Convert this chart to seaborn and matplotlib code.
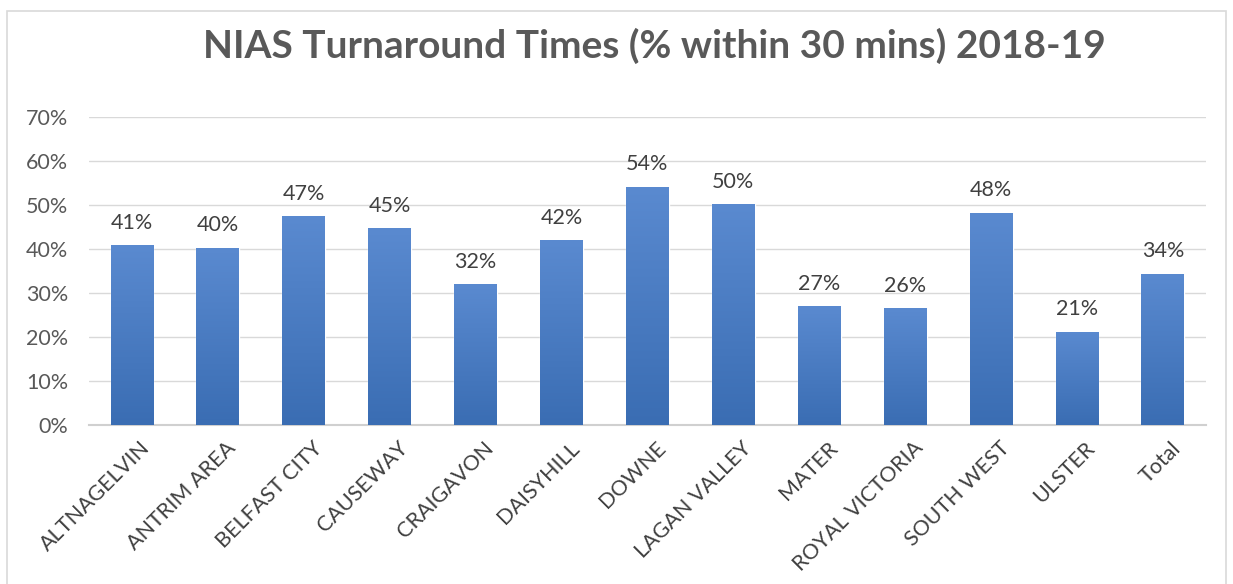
import numpy as np
import pandas as pd
import matplotlib
matplotlib.use("Agg")
import matplotlib.pyplot as plt
import matplotlib.transforms as mtransforms
import seaborn as sns
from matplotlib.colors import LinearSegmentedColormap
from matplotlib.patches import Rectangle

categories = ["ALTNAGELVIN", "ANTRIM AREA", "BELFAST CITY", "CAUSEWAY", "CRAIGAVON",
              "DAISYHILL", "DOWNE", "LAGAN VALLEY", "MATER", "ROYAL VICTORIA",
              "SOUTH WEST", "ULSTER", "Total"]
values = [0.409, 0.403, 0.474, 0.447, 0.320, 0.420, 0.541, 0.502, 0.270, 0.265, 0.482, 0.212, 0.344]
labels = ["41%", "40%", "47%", "45%", "32%", "42%", "54%", "50%", "27%", "26%", "48%", "21%", "34%"]
yticks = [0, 0.1, 0.2, 0.3, 0.4, 0.5, 0.6, 0.7]
title = "NIAS Turnaround Times (% within 30 mins) 2018-19"

sns.set_theme(style="white")
plt.rcParams['font.family'] = ['Lato', 'DejaVu Sans']

fig = plt.figure(figsize=(12.33, 5.84), dpi=100)
ax = fig.add_axes([0.0722, 0.2723, 0.9058, 0.5274])

df = pd.DataFrame({"cat": categories, "val": values})
sns.barplot(data=df, x="cat", y="val", color="#4A7CC2", width=0.5, ax=ax, saturation=1)

cmap = LinearSegmentedColormap.from_list("g", ["#3A6DB3", "#5A8AD0"])
grad = np.linspace(0, 1, 256).reshape(-1, 1)
for p in list(ax.patches):
    x0, y0 = p.get_x(), p.get_y()
    w, h = p.get_width(), p.get_height()
    im = ax.imshow(grad, cmap=cmap, origin="lower", aspect="auto",
                   extent=[x0, x0 + w, y0, y0 + h], zorder=3)
    im.set_clip_path(p)
    p.set_zorder(2)

for i, (v, lab) in enumerate(zip(values, labels)):
    ax.annotate(lab, (i, v), xytext=(0, 9), textcoords="offset points",
                ha="center", va="bottom", fontsize=15.5, color="#404040")

ax.set_ylim(0, 0.7)
ax.set_xlim(-0.5, len(categories) - 0.5)
ax.set_yticks(yticks)
ax.set_yticklabels([f"{int(round(t*100))}%" for t in yticks], fontsize=15.5, color="#595959")
ax.tick_params(axis="y", length=0, pad=15)
ax.tick_params(axis="x", length=0, pad=5)
ax.set_xticks(range(len(categories)))
ax.set_xticklabels(categories, rotation=45, ha="right", rotation_mode="anchor",
                   fontsize=15.5, color="#404040")
offset = mtransforms.ScaledTranslation(8/100, -6/100, fig.dpi_scale_trans)
for t in ax.get_xticklabels():
    t.set_transform(t.get_transform() + offset)
ax.set_xlabel("")
ax.set_ylabel("")
ax.grid(axis="y", color="#D9D9D9", linewidth=1)
ax.set_axisbelow(True)
for s in ["top", "right", "left"]:
    ax.spines[s].set_visible(False)
ax.spines["bottom"].set_color("#D0D0D0")
ax.spines["bottom"].set_linewidth(1.5)
ax.set_zorder(1)

fig.text(0.531, 0.921, title, ha="center", va="center", fontsize=28,
         fontweight="bold", color="#595959")

fig.patches.append(Rectangle((7/1233, -0.01), (1226-7)/1233, 1 - 11/584 + 0.01,
                             transform=fig.transFigure, fill=False,
                             edgecolor="#D9D9D9", linewidth=1.2))

fig.savefig("out.png", dpi=100)
